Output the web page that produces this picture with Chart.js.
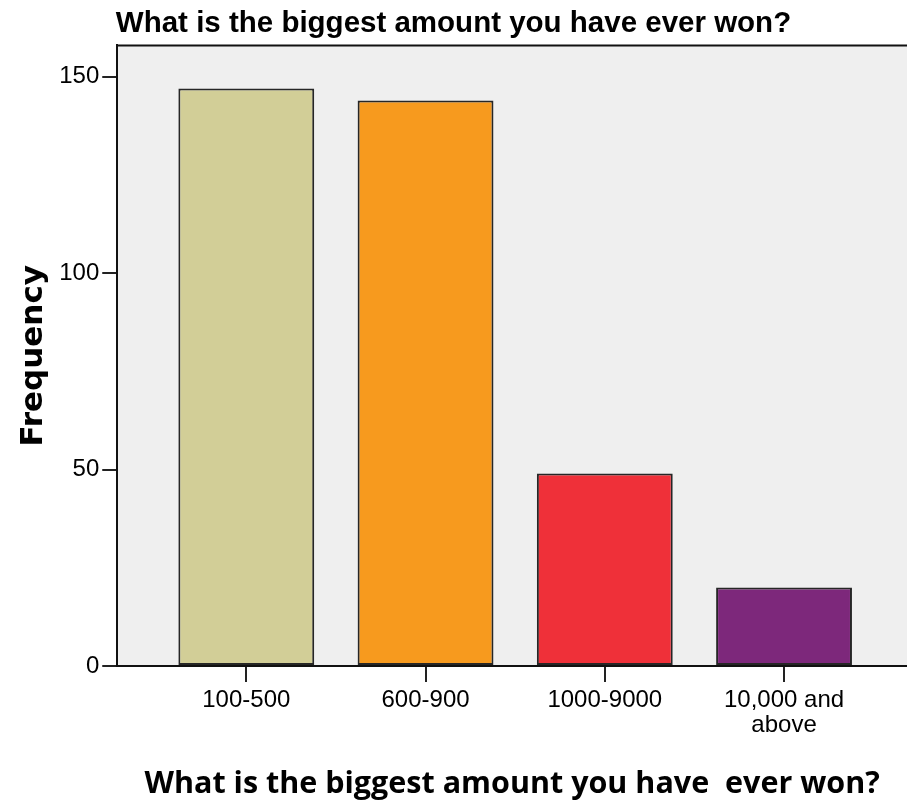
<!DOCTYPE html>
<html>
<head>
<meta charset="utf-8">
<script src="https://cdn.jsdelivr.net/npm/chart.js@4"></script>
<style>
  html, body { margin: 0; padding: 0; background: #ffffff; overflow: hidden; }
  #wrap { width: 907px; height: 805px; }
</style>
</head>
<body>
<div id="wrap"><canvas id="c" width="907" height="805"></canvas></div>
<script>
const categories = ['100-500', '600-900', '1000-9000', ['10,000 and', 'above']];
const frequencies = [147, 144, 49, 20];
const barColors = ['#D2CE97', '#F79A1E', '#EF3039', '#7D287B'];
const yTickValues = [0, 50, 100, 150];
const chartTitle = 'What is the biggest amount you have ever won?';
const xTitle = 'What is the biggest amount you have  ever won?';
const yTitle = 'Frequency';

const sans = "'Liberation Sans', Arial, sans-serif";

const plotBg = {
  id: 'plotBg',
  beforeDraw(chart) {
    const { ctx, chartArea: a } = chart;
    ctx.save();
    ctx.fillStyle = '#efefef';
    ctx.fillRect(a.left, a.top, a.right - a.left, a.bottom - a.top);
    ctx.restore();
  },
  afterDraw(chart) {
    const { ctx, chartArea: a } = chart;
    ctx.save();
    ctx.strokeStyle = '#111';
    ctx.lineWidth = 2;
    ctx.beginPath();
    ctx.moveTo(a.left - 1, a.top);
    ctx.lineTo(a.right, a.top);
    ctx.stroke();
    ctx.restore();
  }
};

new Chart(document.getElementById('c'), {
  type: 'bar',
  data: {
    datasets: [{
      data: frequencies.map((v, i) => ({ x: i, y: v })),
      backgroundColor: barColors,
      borderColor: '#262626',
      borderWidth: 2,
      borderSkipped: false,
      barPercentage: 0.758,
      categoryPercentage: 1
    }]
  },
  options: {
    responsive: false,
    animation: false,
    devicePixelRatio: 1,
    layout: { padding: { left: 0, right: 0, top: 6, bottom: 2 } },
    plugins: {
      legend: { display: false },
      tooltip: { enabled: false },
      title: {
        display: true,
        text: chartTitle,
        color: '#000',
        font: { family: sans, weight: 'bold', size: 29.5 },
        padding: { top: 0, bottom: 4 }
      }
    },
    scales: {
      x: {
        type: 'linear',
        offset: false,
        min: -0.72,
        max: 3.686,
        afterBuildTicks(axis) { axis.ticks = categories.map((_, i) => ({ value: i })); },
        ticks: {
          color: '#000',
          font: { family: sans, size: 24, lineHeight: 1.05 },
          padding: 6,
          maxRotation: 0,
          autoSkip: false,
          callback: (v) => categories[v]
        },
        grid: { offset: false, drawOnChartArea: false, color: '#222', lineWidth: 2, tickLength: 16 },
        border: { display: true, color: '#111', width: 2 },
        title: {
          display: true,
          text: xTitle,
          color: '#000',
          font: { family: "'Open Sans', 'DejaVu Sans', sans-serif", weight: 'bold', size: 30.5 },
          padding: { top: 22, bottom: 0 }
        }
      },
      y: {
        min: 0,
        max: 158,
        afterBuildTicks(axis) { axis.ticks = yTickValues.map(v => ({ value: v })); },
        ticks: {
          color: '#000',
          font: { family: sans, size: 24 },
          padding: 3
        },
        grid: { drawOnChartArea: false, color: '#222', lineWidth: 2, tickLength: 15 },
        border: { display: true, color: '#111', width: 2 },
        title: {
          display: true,
          text: yTitle,
          color: '#000',
          font: { family: "'DejaVu Sans', sans-serif", weight: 'bold', size: 31 },
          padding: { top: 15, bottom: 4 }
        }
      }
    }
  },
  plugins: [plotBg]
});
</script>
</body>
</html>
